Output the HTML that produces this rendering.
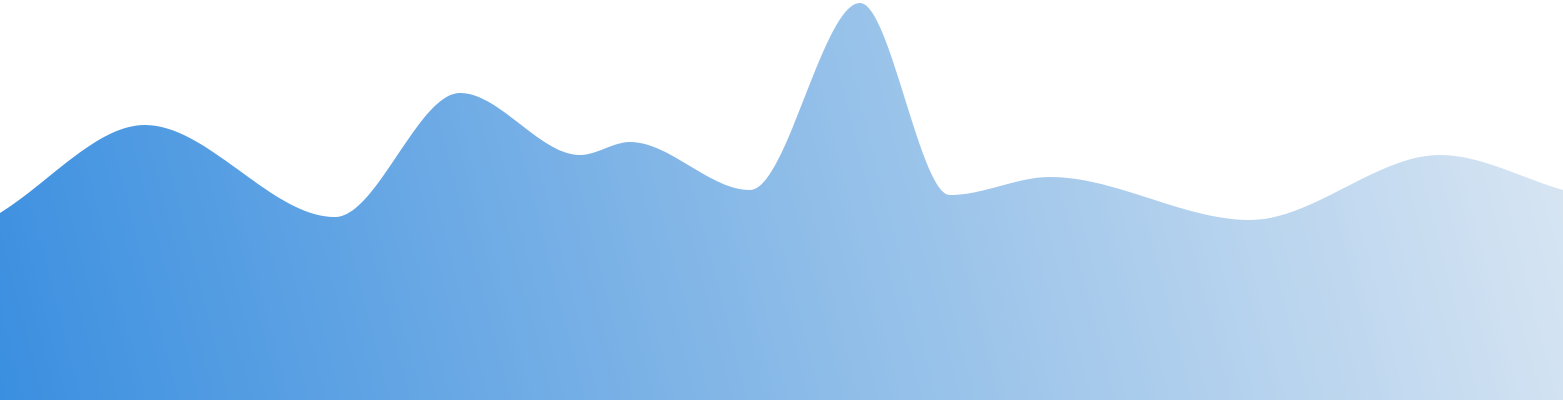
<!DOCTYPE html>
<html><head><meta charset="utf-8"><style>
html,body{margin:0;padding:0;background:#fff;width:1563px;height:400px;overflow:hidden}
svg{display:block}
</style></head><body>
<svg id="chart" width="1563" height="400" viewBox="0 0 1563 400">
<defs>
<linearGradient id="g" x1="0" y1="400" x2="1563" y2="0" gradientUnits="userSpaceOnUse">
<stop offset="0" stop-color="#3b8fe0"/>
<stop offset="0.5" stop-color="#8dbce8"/>
<stop offset="1" stop-color="#dbe7f3"/>
</linearGradient>
</defs>
</svg>
<script>
const positions = [0, 145, 335, 460, 580, 630, 750, 860, 950, 1050, 1250, 1440, 1563];
const values = [187, 275, 183, 307, 245, 258, 210, 397, 205, 223, 180, 245, 210];
const W = 1563, H = 400, maxV = 400;
function xs(v){ return v / 1563 * W; }
function ys(v){ return H - v / maxV * H; }
const P = positions.map((p,i)=>[xs(p), ys(values[i])]);
// monotone X cubic
const n = P.length, d = [], m = [];
for (let i=0;i<n-1;i++) d.push((P[i+1][1]-P[i][1])/(P[i+1][0]-P[i][0]));
for (let i=0;i<n;i++){
  if(i===0) m.push(d[0]); else if(i===n-1) m.push(d[n-2]);
  else m.push(d[i-1]*d[i]<=0?0:(d[i-1]+d[i])/2);
}
let path = `M${P[0][0]},${H} L${P[0][0]},${P[0][1]}`;
for (let i=0;i<n-1;i++){
  const h = (P[i+1][0]-P[i][0])/3;
  path += ` C${P[i][0]+h},${P[i][1]+m[i]*h} ${P[i+1][0]-h},${P[i+1][1]-m[i+1]*h} ${P[i+1][0]},${P[i+1][1]}`;
}
path += ` L${P[n-1][0]},${H} Z`;
const el = document.createElementNS('http://www.w3.org/2000/svg','path');
el.setAttribute('d', path);
el.setAttribute('fill', 'url(#g)');


document.getElementById('chart').appendChild(el);
</script>
</body></html>
